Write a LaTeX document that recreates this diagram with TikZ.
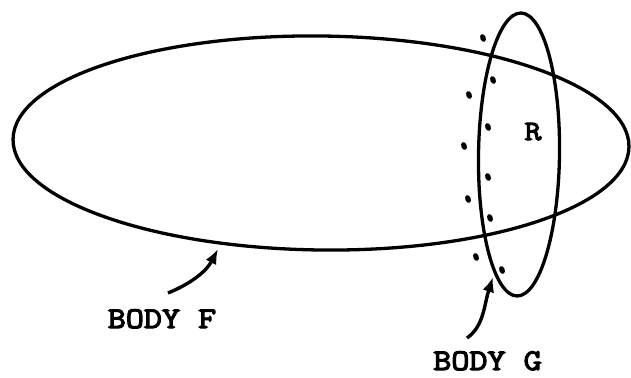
\documentclass[tikz,border=0pt]{standalone}
\usepackage{fontspec}
\newfontfamily\twfont{Latin Modern Mono}[FakeBold=4,FakeStretch=1.17]
\usetikzlibrary{arrows.meta}
\tikzset{
  body/.style={line width=3.3pt, draw=black},
  speck/.style={fill=black, draw=none},
  pointer/.style={line width=3.4pt, -{Latex[length=15pt,width=12pt]}},
  lbl/.style={font=\twfont\fontsize{30}{30}\selectfont, inner sep=0pt, anchor=base},
  rlbl/.style={font=\twfont\fontsize{28}{28}\selectfont, inner sep=0pt, anchor=base},
}
\begin{document}
\begin{tikzpicture}[x=1pt,y=-1pt]
\useasboundingbox (0,0) rectangle (631,377);
% body F
\draw[body, rotate around={-0.7:(321,143)}] (321,143) ellipse [x radius=308, y radius=107];
% body G
\draw[body, rotate around={-0.8:(519,154.5)}] (519,154.5) ellipse [x radius=40.5, y radius=141.5];
% dots
\foreach \px/\py in {483/38,469/95,464/146,468/199,476/257,493/80,488/127,488/177,490/218,502/270}
  \fill[speck, rotate around={20:(\px,\py)}] (\px,\py) ellipse [x radius=2.8, y radius=4.0];
% labels
\node[rlbl] (r) at (533,140) {R};
\node[lbl] (bf) at (162,328) {BODY F};
\node[lbl] (bg) at (487.5,370) {BODY G};
% arrows
\coordinate (ftail) at (168,293);
\coordinate (ftip) at (218,249);
\coordinate (gtail) at (467,338);
\coordinate (gtip) at (493,277);
\draw[pointer] (ftail) .. controls (190,284) and (206,272) .. (ftip);
\draw[pointer] (gtail) .. controls (484,326) and (484,305) .. (gtip);
\end{tikzpicture}
\end{document}
